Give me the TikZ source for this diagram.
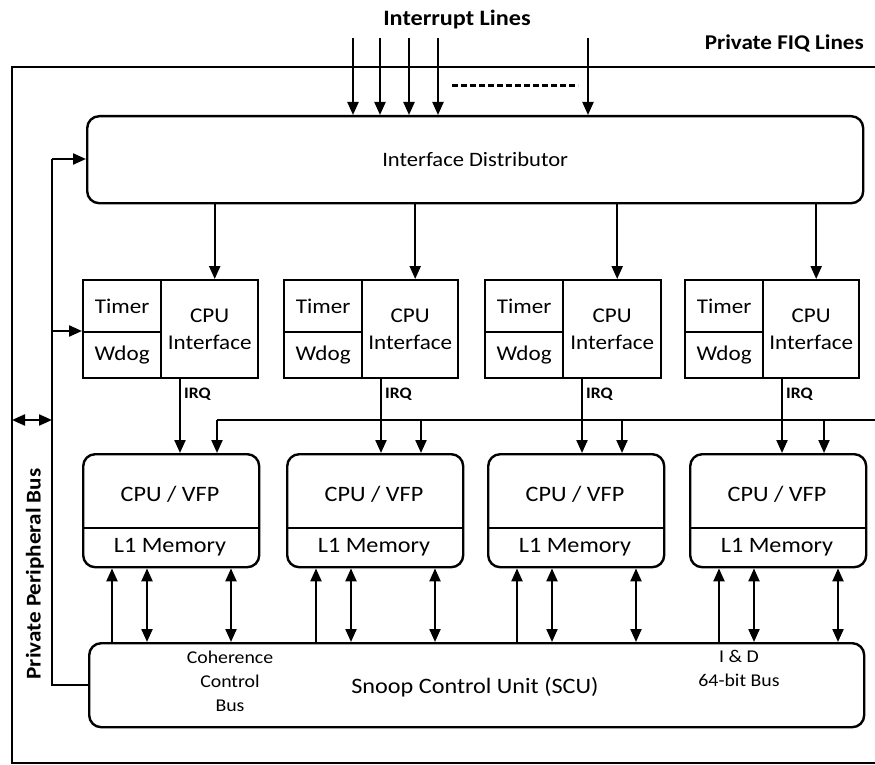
\documentclass[tikz,border=0pt]{standalone}
\usepackage{fontspec}
\setmainfont{Carlito}[FakeStretch=1.1]
\usetikzlibrary{arrows.meta}
\begin{document}
\begin{tikzpicture}[x=1pt,y=-1pt,
  box/.style={draw, line width=2.4pt, inner sep=0pt, anchor=north west, align=center},
  rbox/.style={box, rounded corners=12pt},
  tip/.tip={Triangle[length=13pt,width=11pt]},
  arr/.style={line width=2.2pt, -tip},
  darr/.style={line width=2.2pt, tip-tip},
  line/.style={line width=2.2pt},
  lbl/.style={inner sep=0pt, align=center},
  fa/.style={font=\fontsize{21}{27}\selectfont},
  fb/.style={font=\fontsize{22}{26}\selectfont},
  fd/.style={font=\fontsize{20.5}{24}\selectfont},
  fs/.style={font=\fontsize{18}{24}\selectfont},
  fh/.style={font=\bfseries\fontsize{21}{24}\selectfont},
  firq/.style={font=\bfseries\fontsize{16}{18}\selectfont}
]
\useasboundingbox (0,0) rectangle (875,765);
\fill[white] (0,0) rectangle (875,765);

% outer frame (open to the right)
\coordinate (frTR) at (875,67);
\coordinate (frTL) at (12,67);
\coordinate (frBL) at (12,763);
\coordinate (frBR) at (875,763);
\draw[line width=2.2pt] (frTR) -- (frTL) -- (frBL) -- (frBR);

% top labels
\node[lbl, fh, font=\bfseries\fontsize{22}{24}\selectfont] (intlab) at (457,20) {Interrupt Lines};
\node[lbl, fh, anchor=east] (fiqlab) at (864,43) {Private FIQ Lines};

% distributor
\node[rbox, fd, minimum width=776pt, minimum height=87pt] (dist) at (86,115) {Interface Distributor};

% interrupt lines
\foreach \x [count=\k] in {353,380,409,438,588}{
  \coordinate (in\k) at (\x,38);
  \draw[arr] (in\k) -- (in\k |- dist.north);
}
\coordinate (dashA) at (452,86);
\coordinate (dashB) at (578,86);
\draw[line width=3pt, dash pattern=on 6pt off 3pt] (dashA) -- (dashB);

% SCU
\node[rbox, minimum width=775pt, minimum height=84pt] (scu) at (88,642) {};
\node[lbl, fb] (scutxt) at (475,687) {Snoop Control Unit (SCU)};
\node[lbl, fs] (coh) at (230,681) {Coherence\\Control\\Bus};
\node[lbl, fs] (iandd) at (739,668) {I \& D\\64-bit Bus};

% private peripheral bus
\coordinate (pbtop) at (52,159);
\coordinate (pbbot) at (52,685);
\draw[arr] (pbtop) -- (pbtop -| dist.west);
\draw[line] (pbtop) -- (pbbot) -- (pbbot -| scu.west);
\coordinate (pbl) at (12,420);
\draw[darr] (pbl) -- (pbl -| pbtop);
\node[lbl, fh, rotate=90] (pblab) at (35,574) {Private Peripheral Bus};

% FIQ bus
\coordinate (fqS) at (217,420);
\coordinate (fqE) at (875,420);

% processor columns
\foreach \i/\L/\W/\C in {1/82/97/82, 2/283/96/286, 3/484/98/487, 4/684/96/689}{
  \node[box, fa, minimum width=78pt, minimum height=52pt] (tim\i) at (\L,279) {Timer};
  \node[box, fa, minimum width=78pt, minimum height=46pt] (wd\i) at (\L,331) {Wdog};
  \node[box, fa, minimum width=\W pt, minimum height=98pt] (cif\i) at (\L+78,279) {CPU\\Interface};
  \node[rbox, minimum width=176pt, minimum height=113pt] (cpu\i) at (\C,453) {};
  \coordinate (dv\i) at (\C,528);
  \draw[line width=2.4pt] (dv\i) -- (dv\i -| cpu\i.east);
  \node[lbl, fb] (cput\i) at (\C+88,494) {CPU / VFP};
  \node[lbl, fb] (l1t\i) at (\C+88,547) {L1 Memory};
  % distributor to CPU interface
  \draw[arr] ([xshift=5pt]cif\i.north |- dist.south) -- ([xshift=5pt]cif\i.north);
  % IRQ
  \draw[arr] ([xshift=20pt]cif\i.south west) -- ([xshift=20pt]cif\i.south west |- cpu\i.north)
     node[pos=0.2, right=3pt, lbl, firq] (irq\i) {IRQ};
  % FIQ drops
  \draw[arr] ([xshift=135pt]cpu\i.north west |- fqS) -- ([xshift=135pt]cpu\i.north west);
  % L1 <-> SCU
  \draw[arr] ([xshift=30pt]cpu\i.south west |- scu.north) -- ([xshift=30pt]cpu\i.south west);
  \draw[darr] ([xshift=65pt]cpu\i.south west |- scu.north) -- ([xshift=65pt]cpu\i.south west);
  \draw[darr] ([xshift=149pt]cpu\i.south west |- scu.north) -- ([xshift=149pt]cpu\i.south west);
}
\draw[line] (fqS) -- (fqE);
\draw[arr] (pbtop |- wd1.north west) -- (wd1.north west);
\end{tikzpicture}
\end{document}
